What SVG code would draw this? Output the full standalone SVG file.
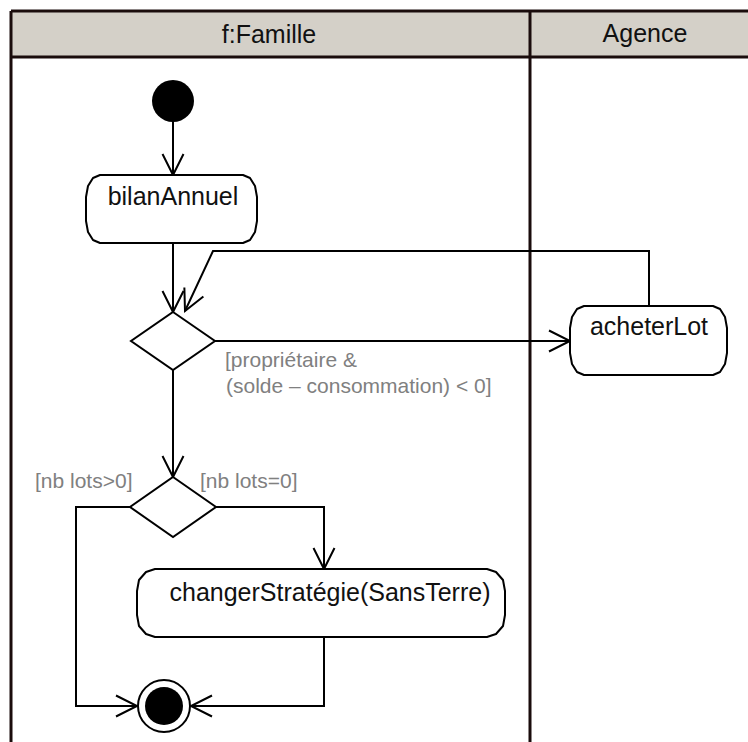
<svg xmlns="http://www.w3.org/2000/svg" width="748" height="742" viewBox="0 0 748 742">
<defs>
<style>
.lane{fill:none;stroke:#1a0c0c;stroke-width:3}
.hdr{fill:#d4d0c8;stroke:none}
.box{fill:#fff;stroke:#000;stroke-width:2;stroke-linejoin:round}
.dec{fill:#fff;stroke:#000;stroke-width:2}
.con{fill:none;stroke:#000;stroke-width:2;marker-end:url(#arr)}
.t{font-family:"Liberation Sans",Arial,sans-serif;font-size:25px;fill:#111;text-anchor:middle}
.g{font-family:"Liberation Sans",Arial,sans-serif;font-size:21px;fill:#808080}
</style>
<marker id="arr" markerUnits="userSpaceOnUse" viewBox="-23 -12 25 24" markerWidth="25" markerHeight="24" refX="0" refY="0" orient="auto" overflow="visible">
<path d="M -21 -10.5 L 0 0 L -21 10.5" fill="none" stroke="#000" stroke-width="2"/>
</marker>
</defs>
<g id="swimlanes">
<rect class="hdr" x="11" y="11" width="740" height="46"/>
<line x1="11" y1="57" x2="748" y2="55.5" stroke="#9a968f" stroke-width="0"/>
<line x1="11" y1="57" x2="748" y2="57" class="lane"/>
<line x1="11" y1="11" x2="748" y2="11" class="lane"/>
<line x1="11" y1="11" x2="11" y2="742" class="lane"/>
<line x1="530" y1="11" x2="530" y2="742" class="lane"/>
<text class="t" x="269" y="43">f:Famille</text>
<text class="t" x="645" y="42">Agence</text>
</g>
<g id="connectors">
<line class="con" x1="173" y1="122" x2="173" y2="175"/>
<line class="con" x1="173" y1="243" x2="173" y2="312"/>
<polyline class="con" points="649,306 649,251 213,251 185,311"/>
<line class="con" x1="215" y1="341" x2="570" y2="341"/>
<line class="con" x1="173" y1="370" x2="173" y2="477"/>
<polyline class="con" points="216,507 324,507 324,569"/>
<polyline class="con" points="130,507 76,507 76,706 137,706"/>
<polyline class="con" points="324,637 324,706 191,706"/>
<text class="g" x="225" y="367">[propriétaire &amp;</text>
<text class="g" x="226" y="393">(solde – consommation) &lt; 0]</text>
<text class="g" x="35" y="488">[nb lots&gt;0]</text>
<text class="g" x="200" y="488">[nb lots=0]</text>
</g>
<g id="initial">
<circle cx="173" cy="101" r="21" fill="#000"/>
</g>
<g id="bilanAnnuel">
<polygon class="box" points="100,175 93,178 88,186 86,197 86,221 88,232 93,240 100,243 243,243 250,240 255,232 257,221 257,197 255,186 250,178 243,175"/>
<text class="t" x="173" y="205">bilanAnnuel</text>
</g>
<g id="decision1">
<polygon class="dec" points="173,312 215,341 173,370 131,341"/>
</g>
<g id="acheterLot">
<polygon class="box" points="584,306 577,309 572,317 570,328 570,353 572,364 577,372 584,375 713,375 720,372 725,364 727,353 727,328 725,317 720,309 713,306"/>
<text class="t" x="649" y="335">acheterLot</text>
</g>
<g id="decision2">
<polygon class="dec" points="173,477 216,507 173,537 130,507"/>
</g>
<g id="changerStrategie">
<polygon class="box" points="155,569 146,572 139,580 137,591 137,615 139,626 146,634 155,637 487,637 496,634 503,626 505,615 505,591 503,580 496,572 487,569"/>
<text class="t" x="330" y="601">changerStratégie(SansTerre)</text>
</g>
<g id="final">
<circle cx="164" cy="706" r="26" fill="#fff" stroke="#000" stroke-width="2"/>
<circle cx="164" cy="706" r="19" fill="#000"/>
</g>
</svg>
